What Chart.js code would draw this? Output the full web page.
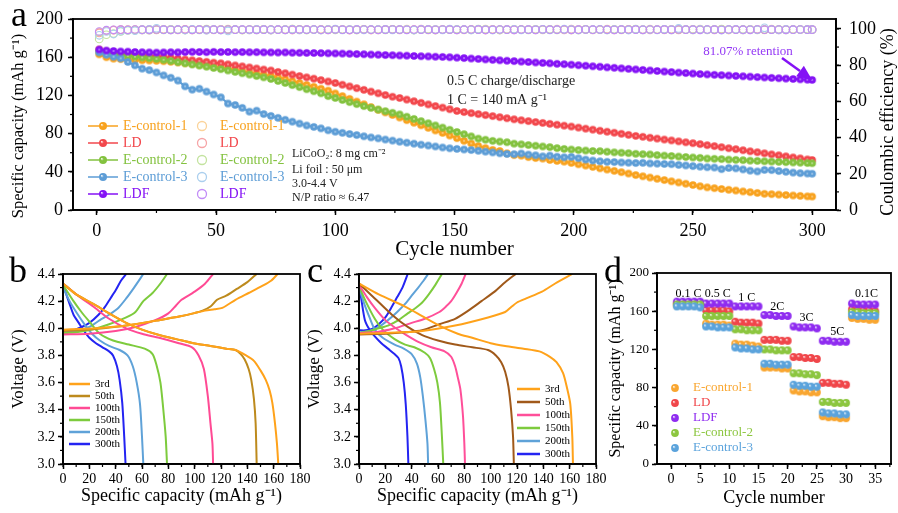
<!DOCTYPE html>
<html>
<head>
<meta charset="utf-8">
<script src="https://cdn.jsdelivr.net/npm/chart.js@4.4.1/dist/chart.umd.min.js"></script>
<style>
  html, body { margin: 0; padding: 0; background: #fff; }
  body { width: 898px; height: 513px; position: relative; overflow: hidden; }
  canvas { position: absolute; }
  .tag { position: absolute; font-family: "Liberation Serif", "Times New Roman", serif; font-size: 36px; line-height: 1; color: #000; }
</style>
</head>
<body>
<canvas id="cycling" style="left:0px;top:0px" width="898" height="263"></canvas>
<canvas id="profileLD" style="left:0px;top:258px" width="320" height="255"></canvas>
<canvas id="profileE" style="left:300px;top:258px" width="320" height="255"></canvas>
<canvas id="rate" style="left:600px;top:258px" width="298" height="255"></canvas>
<div class="tag" style="left:11px;top:-4px">a</div>
<div class="tag" style="left:9px;top:252px">b</div>
<div class="tag" style="left:307px;top:252px">c</div>
<div class="tag" style="left:604px;top:252px">d</div>
<script>
// ---- long-term cycling at 0.5 C (every third cycle) ----
const cycles = [];
for (let c = 1; c <= 298; c += 3) cycles.push(c);
cycles.push(300);

const seriesNames = ["E-control-1", "LD", "E-control-2", "E-control-3", "LDF"];

const capE1 = [
  163, 160, 158.5, 158, 157.5, 157.2, 156.8, 156.5, 156.2, 155.8,
  155.2, 154.5, 153.7, 152.9, 152.1, 151.3, 150.4, 149.2, 147.9, 146.6,
  145.4, 144.1, 142.8, 141.5, 140.3, 139.0, 137.0, 135.0, 133.0, 131.0,
  129.0, 127.0, 125.0, 122.1, 119.3, 116.4, 113.5, 110.7, 107.8, 104.9,
  102.2, 99.5, 96.8, 94.1, 91.4, 88.7, 86.0, 83.3, 80.7, 78.0,
  75.2, 72.5, 69.7, 67.0, 64.8, 63.0, 61.8, 59.4, 57.5, 56.9,
  55.4, 54.4, 53.8, 52.4, 51.4, 50.6, 49.3, 47.9, 46.5, 45.1,
  43.7, 42.4, 41.0, 39.6, 38.2, 36.6, 35.3, 34.0, 32.7, 31.4,
  30.1, 28.8, 27.5, 26.2, 24.9, 23.7, 22.9, 22.0, 21.2, 20.4,
  19.5, 18.7, 17.9, 17.0, 16.6, 16.1, 15.7, 15.2, 14.8, 14.3,
  14.1];
const capLD = [
  168, 166, 165, 164, 163.3, 162.7, 162.1, 161.5, 161.0, 160.2,
  159.3, 158.5, 157.6, 156.8, 156.0, 155.2, 154.3, 153.6, 152.5, 151.4,
  150.4, 149.3, 148.2, 147.1, 146.1, 144.6, 143.2, 141.8, 140.3, 138.9,
  137.5, 136.0, 134.6, 133.0, 131.2, 129.4, 127.6, 125.8, 124.0, 122.2,
  120.4, 118.6, 117.3, 115.6, 113.9, 112.2, 110.6, 108.9, 107.2, 105.5,
  103.7, 102.6, 101.5, 100.4, 99.4, 98.3, 97.2, 96.1, 95.0, 94.0,
  93.1, 92.1, 91.2, 90.2, 89.3, 88.3, 87.4, 86.3, 85.2, 84.1,
  83.0, 82.0, 80.9, 79.8, 78.7, 77.6, 76.7, 75.7, 74.8, 73.8,
  72.9, 71.9, 70.9, 70.0, 69.0, 67.9, 66.9, 65.8, 64.7, 63.7,
  62.6, 61.5, 60.5, 59.4, 58.3, 57.3, 56.2, 55.1, 54.1, 53.0,
  52.4];
const capE2 = [
  166, 164.5, 163.2, 162.2, 161.4, 160.6, 159.8, 159.0, 158.2, 157.3,
  156.1, 154.9, 153.6, 152.4, 151.2, 150.0, 148.7, 147.5, 146.1, 144.6,
  143.2, 141.8, 140.3, 138.9, 137.2, 135.1, 133.0, 130.8, 128.7, 126.5,
  124.4, 122.2, 119.3, 117.3, 115.2, 113.0, 110.9, 108.8, 107.0, 105.2,
  103.5, 101.8, 100.1, 97.7, 95.4, 93.1, 90.9, 88.6, 86.3, 84.0,
  81.7, 79.4, 77.1, 74.8, 73.6, 72.4, 71.6, 71.0, 69.5, 68.8,
  68.0, 67.3, 66.5, 65.9, 64.8, 64.0, 63.3, 62.8, 62.3, 61.8,
  61.6, 61.0, 60.4, 60.0, 59.5, 58.9, 58.5, 58.2, 57.5, 57.0,
  56.6, 56.0, 55.5, 55.0, 54.6, 53.9, 53.6, 53.3, 52.8, 52.5,
  52.2, 51.7, 51.4, 51.0, 50.7, 50.4, 50.1, 49.8, 49.5, 49.2,
  49.0];
const capE3 = [
  165, 162.5, 160.5, 158.8, 155.0, 151.5, 148.0, 146.5, 144.0, 141.0,
  138.5, 135.5, 129.5, 126.0, 127.0, 124.0, 121.0, 118.0, 111.5, 110.0,
  107.0, 103.0, 104.0, 100.5, 98.5, 96.5, 94.5, 92.5, 90.5, 88.5,
  87.0, 85.5, 83.5, 82.0, 80.8, 79.6, 78.5, 77.2, 76.0, 75.0,
  73.8, 72.7, 71.5, 70.5, 69.5, 68.4, 67.5, 66.5, 65.5, 64.6,
  64.0, 63.4, 62.8, 62.0, 61.1, 60.3, 59.4, 58.7, 58.5, 59.2,
  58.0, 57.3, 56.2, 57.0, 55.8, 55.2, 55.6, 54.2, 52.8, 51.8,
  51.0, 50.5, 50.2, 49.8, 49.5, 49.2, 49.4, 48.8, 48.5, 48.2,
  48.0, 47.2, 46.6, 46.0, 45.4, 44.8, 44.5, 42.8, 44.0, 43.6,
  42.5, 41.2, 40.4, 42.0, 41.8, 40.8, 40.0, 39.2, 38.6, 38.2,
  38.0];
const capLDF = [
  168, 167, 166.5, 166, 165.8, 165.5, 165.2, 165.0, 164.8, 165.0,
  165.2, 165.1, 165.4, 165.6, 165.5, 165.3, 165.6, 165.4, 165.5, 165.3,
  165.4, 165.2, 165.3, 165.1, 165.0, 164.9, 165.0, 164.7, 164.6, 164.5,
  164.4, 164.3, 164.1, 164.0, 163.8, 163.6, 163.3, 163.1, 162.8, 162.6,
  162.3, 162.1, 161.8, 161.6, 161.3, 161.0, 160.8, 160.5, 160.3, 160.0,
  159.5, 159.1, 158.6, 158.2, 157.7, 157.2, 156.8, 156.3, 155.9, 155.4,
  155.0, 154.5, 154.0, 153.6, 153.1, 152.7, 152.2, 151.6, 151.1, 150.5,
  150.0, 149.4, 148.9, 148.3, 147.8, 147.2, 146.7, 146.1, 145.6, 145.0,
  144.5, 143.9, 143.4, 142.9, 142.4, 142.0, 141.6, 141.2, 140.8, 140.4,
  140.0, 139.6, 139.2, 138.8, 138.4, 138.0, 137.6, 137.2, 136.8, 136.4,
  136.2];

const ceE1 = [
  98.2, 99.1, 99.4, 99.5, 99.6, 99.4, 99.7, 99.5, 99.6, 99.8,
  99.5, 99.7, 99.6, 99.4, 99.8, 99.6, 99.5, 99.7, 99.9, 99.6,
  99.7, 99.5, 99.8, 99.6, 99.4, 99.7, 99.6, 99.9, 99.5, 99.7,
  99.6, 99.8, 99.5, 99.7, 99.6, 99.4, 99.8, 99.6, 99.7, 99.5,
  99.8, 99.6, 99.7, 99.9, 99.5, 99.6, 99.8, 99.4, 99.7, 99.6,
  99.7, 99.5, 99.8, 99.6, 99.9, 99.7, 99.5, 99.6, 99.8, 99.7,
  99.6, 99.8, 99.5, 99.7, 99.9, 99.6, 99.4, 99.7, 99.8, 99.6,
  99.7, 99.9, 99.6, 99.5, 99.8, 99.7, 99.6, 99.9, 99.7, 99.5,
  99.8, 99.6, 99.7, 99.5, 99.9, 99.6, 99.8, 99.7, 99.4, 99.7,
  99.6, 99.8, 99.7, 99.5, 99.9, 99.6, 99.7, 99.8, 99.6, 99.7,
  99.6];
const ceLD = [
  97.8, 99.0, 99.3, 99.6, 99.5, 99.7, 99.4, 99.6, 99.5, 99.7,
  99.6, 99.5, 99.8, 99.6, 99.7, 99.4, 99.6, 99.8, 99.5, 99.7,
  99.5, 99.7, 99.6, 99.8, 99.5, 99.6, 99.7, 99.4, 99.8, 99.6,
  99.7, 99.5, 99.6, 99.8, 99.7, 99.5, 99.6, 99.8, 99.4, 99.7,
  99.6, 99.8, 99.5, 99.7, 99.6, 99.9, 99.5, 99.7, 99.6, 99.8,
  99.5, 99.7, 99.6, 99.8, 99.4, 99.7, 99.6, 99.8, 99.5, 99.7,
  99.7, 99.5, 99.8, 99.6, 99.7, 99.5, 99.9, 99.6, 99.7, 99.5,
  99.6, 99.8, 99.5, 99.7, 99.6, 99.8, 99.7, 99.5, 99.6, 99.8,
  99.7, 99.5, 99.6, 99.8, 99.7, 99.6, 99.5, 99.8, 99.7, 99.6,
  99.5, 99.7, 99.8, 99.6, 99.7, 99.5, 99.8, 99.6, 99.7, 99.6,
  99.7];
const ceE2 = [
  94.5, 96.8, 97.5, 98.6, 99.2, 99.4, 99.6, 99.3, 99.7, 99.5,
  99.8, 99.6, 99.4, 99.7, 99.5, 99.9, 99.6, 99.5, 99.8, 99.6,
  99.4, 99.7, 99.5, 99.8, 99.6, 99.7, 99.5, 99.9, 99.6, 99.4,
  99.7, 99.6, 99.8, 99.5, 99.7, 99.6, 99.4, 99.8, 99.6, 99.7,
  99.5, 99.8, 99.6, 99.7, 99.4, 99.6, 99.8, 99.5, 99.7, 99.6,
  99.8, 99.6, 99.5, 99.9, 99.7, 99.6, 99.4, 99.7, 99.8, 99.6,
  99.5, 99.7, 99.6, 99.8, 99.5, 99.7, 99.6, 99.4, 99.8, 99.7,
  99.6, 99.5, 99.8, 99.7, 99.6, 99.9, 99.5, 99.7, 99.6, 99.8,
  99.5, 99.7, 99.6, 99.8, 99.6, 99.5, 99.7, 99.9, 99.6, 99.7,
  99.8, 99.6, 99.5, 99.7, 99.6, 99.8, 99.5, 99.7, 99.6, 99.8,
  99.6];
const ceE3 = [
  96.5, 98.6, 97.2, 98.8, 99.3, 99.0, 99.5, 99.8, 100.4, 99.6,
  99.5, 99.7, 99.4, 99.8, 99.6, 99.3, 99.7, 99.5, 98.9, 99.6,
  99.7, 99.5, 99.8, 99.6, 99.4, 99.7, 99.6, 99.8, 99.5, 99.7,
  99.6, 99.4, 99.7, 99.9, 99.5, 99.6, 99.8, 99.5, 99.7, 99.6,
  99.8, 99.5, 99.7, 99.6, 99.4, 99.8, 99.6, 99.7, 99.5, 99.9,
  99.6, 99.7, 99.5, 99.8, 99.6, 99.4, 99.7, 99.6, 99.8, 99.5,
  99.7, 99.6, 99.8, 99.5, 99.7, 99.9, 99.6, 99.5, 99.7, 99.6,
  99.8, 99.5, 99.6, 99.7, 99.4, 99.8, 99.6, 99.7, 99.5, 99.8,
  99.6, 100.3, 99.7, 99.5, 99.8, 99.6, 99.7, 99.4, 99.6, 99.8,
  99.5, 99.7, 99.6, 100.6, 99.7, 99.5, 99.8, 99.6, 99.7, 99.6,
  99.7];
const ceLDF = [
  98.6, 99.3, 99.5, 99.6, 99.5, 99.7, 99.6, 99.5, 99.7, 99.6,
  99.5, 99.6, 99.7, 99.5, 99.6, 99.7, 99.6, 99.5, 99.7, 99.6,
  99.6, 99.7, 99.5, 99.6, 99.7, 99.6, 99.5, 99.6, 99.7, 99.6,
  99.7, 99.6, 99.5, 99.7, 99.6, 99.5, 99.6, 99.7, 99.6, 99.5,
  99.6, 99.7, 99.6, 99.5, 99.7, 99.6, 99.6, 99.5, 99.7, 99.6,
  99.5, 99.6, 99.7, 99.6, 99.5, 99.6, 99.7, 99.6, 99.5, 99.7,
  99.6, 99.5, 99.7, 99.6, 99.6, 99.7, 99.5, 99.6, 99.7, 99.6,
  99.7, 99.6, 99.5, 99.6, 99.7, 99.6, 99.5, 99.7, 99.6, 99.6,
  99.5, 99.7, 99.6, 99.6, 99.5, 99.7, 99.6, 99.5, 99.7, 99.6,
  99.6, 99.5, 99.7, 99.6, 99.6, 99.7, 99.5, 99.6, 99.7, 99.6,
  99.6];

const capacity = [capE1, capLD, capE2, capE3, capLDF];
const efficiency = [ceE1, ceLD, ceE2, ceE3, ceLDF];
const seriesColors = ["#f8a21e", "#f2474c", "#83c23f", "#5d9dd6", "#8412f5"];
const paleColors = ["#fbd39a", "#f6a4a6", "#c3e39f", "#abcfee", "#c28cf7"];

// ---- charge/discharge profiles: 3rd ... 300th cycle ----
const profileCycles = ["3rd", "50th", "100th", "150th", "200th", "300th"];

const ldChargeQ = [
  [0, 12, 25, 48, 73, 90, 99, 108, 115, 121, 131, 141, 151, 158, 163],
  [0, 12, 25, 48, 73, 90, 99, 106, 112, 117, 124, 132, 140, 147],
  [0, 20, 40, 55, 70, 80, 86, 90, 100, 108, 114],
  [0, 10, 22, 35, 48, 55, 61, 68, 74, 79],
  [0, 10, 20, 28, 35, 42, 48, 54, 61],
  [0, 6, 12, 20, 27, 32, 36, 40, 44, 48]];
const ldChargeV = [
  [3.99, 3.995, 4.0, 4.02, 4.06, 4.09, 4.11, 4.13, 4.14, 4.15, 4.21, 4.26, 4.31, 4.35, 4.4],
  [3.98, 3.985, 3.995, 4.02, 4.06, 4.09, 4.11, 4.13, 4.16, 4.21, 4.24, 4.29, 4.34, 4.4],
  [3.955, 3.96, 3.98, 4.01, 4.06, 4.11, 4.17, 4.21, 4.27, 4.33, 4.4],
  [3.965, 3.97, 3.99, 4.03, 4.08, 4.12, 4.2, 4.26, 4.33, 4.4],
  [3.97, 3.98, 4.01, 4.06, 4.1, 4.15, 4.22, 4.3, 4.4],
  [3.975, 3.98, 4.0, 4.04, 4.1, 4.16, 4.22, 4.28, 4.35, 4.4]];
const ldDischargeQ = [
  [0, 10, 23, 35, 48, 60, 73, 86, 99, 112, 124, 131, 139, 145, 150, 154, 157, 159, 161, 162.5, 163.5],
  [0, 10, 23, 35, 48, 60, 73, 86, 99, 112, 124, 131, 135, 138, 141, 143, 145, 146.3, 147.1],
  [0, 10, 23, 35, 48, 60, 73, 88, 98, 103, 107, 110, 112, 113.5, 114],
  [0, 8, 14, 20, 28, 38, 50, 62, 68, 71, 74, 76, 78, 79],
  [0, 5, 10, 17, 22, 28, 35, 43, 49, 53, 56, 58.5, 60, 61],
  [0, 2.5, 5, 8, 12, 16, 20, 25, 30, 35, 38, 41, 43, 45, 46.5, 47.5]];
const ldDischargeV = [
  [4.33, 4.25, 4.18, 4.11, 4.04, 3.99, 3.95, 3.92, 3.89, 3.87, 3.85, 3.84, 3.8, 3.76, 3.69, 3.62, 3.54, 3.45, 3.3, 3.15, 3.0],
  [4.33, 4.25, 4.18, 4.11, 4.04, 3.99, 3.95, 3.92, 3.89, 3.87, 3.85, 3.84, 3.81, 3.77, 3.7, 3.62, 3.48, 3.3, 3.0],
  [4.33, 4.25, 4.16, 4.07, 4.0, 3.96, 3.93, 3.89, 3.86, 3.8, 3.7, 3.5, 3.3, 3.15, 3.0],
  [4.32, 4.2, 4.12, 4.05, 3.96, 3.91, 3.88, 3.85, 3.81, 3.73, 3.6, 3.42, 3.2, 3.0],
  [4.3, 4.2, 4.12, 4.02, 3.96, 3.91, 3.87, 3.84, 3.8, 3.72, 3.6, 3.44, 3.2, 3.0],
  [4.32, 4.25, 4.18, 4.1, 4.04, 3.98, 3.93, 3.89, 3.86, 3.83, 3.8, 3.72, 3.62, 3.45, 3.2, 3.0]];

const ecChargeQ = [
  [0, 20, 48, 73, 98, 111, 116, 120, 127, 139, 149, 162],
  [0, 20, 35, 48, 61, 73, 83, 93, 103, 111, 119],
  [0, 15, 27, 40, 50, 61, 66, 70, 74, 78, 81],
  [0, 8, 15, 22, 30, 37, 43, 48, 53, 58, 63],
  [0, 8, 15, 22, 29, 35, 40, 45, 49, 52.5],
  [0, 5, 10, 15, 20, 25, 29, 33, 37]];
const ecChargeV = [
  [3.96, 3.965, 3.98, 4.02, 4.08, 4.12, 4.16, 4.19, 4.22, 4.27, 4.33, 4.4],
  [3.955, 3.96, 3.97, 3.985, 4.03, 4.07, 4.13, 4.2, 4.27, 4.34, 4.4],
  [3.965, 3.975, 4.0, 4.04, 4.07, 4.12, 4.16, 4.2, 4.26, 4.33, 4.4],
  [3.965, 3.98, 4.0, 4.02, 4.06, 4.11, 4.15, 4.19, 4.25, 4.32, 4.4],
  [3.97, 3.98, 4.01, 4.06, 4.12, 4.18, 4.24, 4.3, 4.35, 4.4],
  [3.985, 3.985, 3.995, 4.03, 4.08, 4.16, 4.23, 4.3, 4.4]];
const ecDischargeQ = [
  [0, 15, 35, 48, 61, 75, 86, 100, 111, 125, 137, 145, 150, 155, 158, 160.5, 162, 162.5],
  [0, 12, 25, 37, 48, 60, 73, 86, 98, 104, 108, 111, 113.5, 115.5, 117, 117.6],
  [0, 6, 12, 20, 28, 36, 45, 55, 65, 70, 73, 75, 77, 79, 80, 80.5],
  [0, 5, 12, 18, 27, 35, 42, 50, 54, 57, 59.5, 61.5, 63, 64],
  [0, 4, 8, 12, 18, 27, 34, 40, 44, 46.5, 48.5, 50.5, 52, 52.5],
  [0, 2, 4.5, 8, 12, 17, 22, 27, 30, 32, 34, 35.5, 36.8, 37.5]];
const ecDischargeV = [
  [4.33, 4.25, 4.16, 4.09, 4.02, 3.96, 3.93, 3.89, 3.87, 3.85, 3.83, 3.79, 3.75, 3.67, 3.56, 3.44, 3.2, 3.0],
  [4.33, 4.22, 4.1, 4.01, 3.95, 3.91, 3.88, 3.86, 3.84, 3.8, 3.75, 3.68, 3.57, 3.4, 3.2, 3.0],
  [4.32, 4.23, 4.15, 4.06, 4.0, 3.95, 3.9, 3.86, 3.83, 3.79, 3.72, 3.64, 3.55, 3.35, 3.15, 3.0],
  [4.31, 4.2, 4.07, 3.99, 3.92, 3.88, 3.86, 3.82, 3.78, 3.7, 3.6, 3.45, 3.2, 3.0],
  [4.3, 4.18, 4.08, 3.99, 3.93, 3.88, 3.85, 3.81, 3.74, 3.64, 3.5, 3.32, 3.15, 3.0],
  [4.33, 4.2, 4.06, 3.99, 3.94, 3.89, 3.85, 3.81, 3.78, 3.72, 3.6, 3.44, 3.2, 3.0]];

const ldProfileColors = ["#ffa21a", "#bd8a1d", "#ff4a94", "#7dcb3d", "#5fa2d8", "#2424f2"];
const ecProfileColors = ["#ffa21a", "#a0591a", "#ff4f99", "#7dcb3d", "#5fa2d8", "#2424f2"];

// ---- rate capability ----
const rateCycles = [1, 2, 3, 4, 5, 6, 7, 8, 9, 10, 11, 12, 13, 14, 15, 16, 17, 18,
  19, 20, 21, 22, 23, 24, 25, 26, 27, 28, 29, 30, 31, 32, 33, 34, 35];
const rateNames = ["E-control-1", "LD", "LDF", "E-control-2", "E-control-3"];
const rateE1 = [166, 166, 166, 166, 166, 147, 146, 146, 146, 145, 126, 125, 125, 124, 123,
  101, 101, 101, 100, 100, 77, 76, 76, 75, 75, 50, 49, 49, 48, 48, 153, 152, 152, 151, 151];
const rateLD = [168, 168, 168, 168, 168, 161, 161, 161, 161, 160, 149, 148, 148, 148, 147,
  130, 130, 130, 129, 129, 112, 112, 111, 111, 110, 85, 85, 84, 84, 83, 162, 161, 161, 161, 160];
const rateLDF = [170, 170, 170, 170, 170, 168, 168, 168, 168, 168, 165, 165, 165, 165, 165,
  156, 156, 155, 155, 155, 144, 143, 143, 143, 142, 129, 129, 128, 128, 128, 168, 167, 167, 167, 167];
const rateE2 = [167, 167, 167, 167, 167, 155, 155, 155, 155, 155, 141, 141, 140, 140, 140,
  120, 120, 119, 119, 119, 95, 95, 94, 94, 93, 65, 65, 64, 64, 64, 159, 159, 158, 158, 158];
const rateE3 = [165, 165, 165, 165, 164, 144, 144, 143, 143, 143, 122, 121, 121, 120, 120,
  105, 105, 104, 104, 104, 83, 82, 82, 81, 81, 54, 53, 53, 52, 52, 156, 155, 155, 155, 155];
const rateValues = [rateE1, rateLD, rateLDF, rateE2, rateE3];
const rateColors = ["#f9a630", "#f0464a", "#8f2cf0", "#8cc63f", "#5ba3dc"];
const rateSteps = ["0.1 C", "0.5 C", "1 C", "2C", "3C", "5C", "0.1C"];
const rateStepAt = [[3, 178], [8, 178], [13, 174], [18.2, 165], [23.2, 153], [28.5, 138], [33.5, 178]];

// ---- common look ----
const serif = '"Liberation Serif", "Times New Roman", serif';
Chart.defaults.font.family = serif;
Chart.defaults.color = "#000";
Chart.defaults.animation = false;
Chart.defaults.events = [];
Chart.defaults.plugins.legend.display = false;
Chart.defaults.plugins.tooltip.enabled = false;

function ballSprite(color, r, centred) {
  const c = document.createElement("canvas");
  const s = Math.ceil(r * 2 + 2);
  c.width = c.height = s;
  const g = c.getContext("2d");
  const m = s / 2;
  const off = centred ? 0 : r * 0.35;
  const grad = g.createRadialGradient(m - off, m - off, 0, m, m, r);
  grad.addColorStop(0, "#ffffff");
  grad.addColorStop(centred ? 0.28 : 0.4, color);
  grad.addColorStop(1, color);
  g.fillStyle = grad;
  g.beginPath();
  g.arc(m, m, r, 0, Math.PI * 2);
  g.fill();
  return c;
}

function axis(o) {
  return {
    type: "linear",
    position: o.position,
    min: o.min,
    max: o.max,
    ticks: {
      stepSize: o.step, includeBounds: false, autoSkip: false, maxRotation: 0,
      font: { size: o.tickSize }, padding: o.tickPad,
      callback: o.format || (v => String(v)),
    },
    grid: { drawOnChartArea: false, tickLength: 5, tickWidth: 1.5, tickColor: "#000" },
    border: { color: "#000", width: 1.8 },
    title: o.title
      ? { display: true, text: o.title, font: { size: o.titleSize }, padding: o.titlePad }
      : { display: false },
    afterFit: o.horizontal ? s => { s.height = o.size; } : s => { s.width = o.size; },
  };
}

const frameBox = {
  id: "frameBox",
  afterDraw(chart) {
    const { ctx, chartArea: a } = chart;
    ctx.save();
    ctx.strokeStyle = "#000";
    ctx.lineWidth = 1.8;
    ctx.strokeRect(a.left, a.top, a.right - a.left, a.bottom - a.top);
    ctx.restore();
  },
};

// short ticks between the labelled ones
function minorTicks(steps) {
  return {
    id: "minorTicks",
    afterDraw(chart) {
      const ctx = chart.ctx;
      ctx.save();
      ctx.strokeStyle = "#000";
      ctx.lineWidth = 1.2;
      for (const [id, step] of Object.entries(steps)) {
        const s = chart.scales[id];
        const first = Math.ceil(s.min / step - 1e-9);
        for (let k = first; k * step <= s.max + 1e-9; k++) {
          const p = s.getPixelForValue(k * step);
          ctx.beginPath();
          if (s.isHorizontal()) {
            ctx.moveTo(p, s.top); ctx.lineTo(p, s.top + 3);
          } else if (s.position === "left") {
            ctx.moveTo(s.right, p); ctx.lineTo(s.right - 3, p);
          } else {
            ctx.moveTo(s.left, p); ctx.lineTo(s.left + 3, p);
          }
          ctx.stroke();
        }
      }
      ctx.restore();
    },
  };
}

// ---- panel a ----
const capSprites = seriesColors.map(c => ballSprite(c, 3.8, true));

const capSets = seriesNames.map((name, i) => ({
  label: name,
  yAxisID: "y",
  data: cycles.map((c, k) => ({ x: c, y: capacity[i][k] })),
  borderColor: seriesColors[i],
  borderWidth: 2,
  pointStyle: capSprites[i],
  pointRadius: 4,
  tension: 0,
}));
const ceSets = seriesNames.map((name, i) => ({
  label: name + " CE",
  yAxisID: "y1",
  showLine: false,
  data: cycles.map((c, k) => ({ x: c, y: efficiency[i][k] })),
  pointStyle: "circle",
  pointRadius: 3.8,
  pointBorderWidth: 1.1,
  pointBorderColor: paleColors[i],
  pointBackgroundColor: "rgba(255,255,255,0)",
}));

const cyclingNotes = {
  id: "cyclingNotes",
  afterDraw(chart) {
    const ctx = chart.ctx;
    ctx.save();
    ctx.textBaseline = "middle";
    ctx.textAlign = "left";
    ctx.font = "14px " + serif;
    seriesNames.forEach((name, i) => {
      const y = 126 + i * 17;
      ctx.strokeStyle = seriesColors[i];
      ctx.lineWidth = 1.5;
      ctx.beginPath(); ctx.moveTo(88, y); ctx.lineTo(118, y); ctx.stroke();
      const sp = ballSprite(seriesColors[i], 4, false);
      ctx.drawImage(sp, 103 - sp.width / 2, y - sp.height / 2);
      ctx.fillStyle = seriesColors[i];
      ctx.fillText(name, 123, y);
      ctx.strokeStyle = paleColors[i];
      ctx.lineWidth = 1.3;
      ctx.beginPath(); ctx.arc(202, y, 4.5, 0, Math.PI * 2); ctx.stroke();
      ctx.fillText(name, 220, y);
    });

    ctx.fillStyle = "#222";
    ctx.font = "12px " + serif;
    ctx.fillText("LiCoO\u2082: 8 mg cm\u207B\u00B2", 292, 154);
    ctx.fillText("Li foil : 50 \u03BCm", 292, 170);
    ctx.fillText("3.0-4.4 V", 292, 184);
    ctx.fillText("N/P ratio \u2248 6.47", 292, 198);

    ctx.font = "14px " + serif;
    ctx.fillText("0.5 C charge/discharge", 447, 81);
    ctx.fillText("1 C = 140 mA g\u207B\u00B9", 447, 100);

    ctx.fillStyle = "#9438f5";
    ctx.font = "13px " + serif;
    ctx.textAlign = "center";
    ctx.fillText("81.07% retention", 748, 52);

    // arrow onto the last LDF point
    const tx = chart.scales.x.getPixelForValue(300);
    const ty = chart.scales.y.getPixelForValue(capLDF[capLDF.length - 1]);
    const sx = 782, sy = 58;
    const len = Math.hypot(tx - sx, ty - sy);
    const ux = (tx - sx) / len, uy = (ty - sy) / len;
    const head = 15, half = 6.5;
    ctx.strokeStyle = "#8412f5";
    ctx.fillStyle = "#8412f5";
    ctx.lineWidth = 2.5;
    ctx.beginPath(); ctx.moveTo(sx, sy); ctx.lineTo(tx - ux * head, ty - uy * head); ctx.stroke();
    ctx.beginPath();
    ctx.moveTo(tx, ty);
    ctx.lineTo(tx - ux * head - uy * half, ty - uy * head + ux * half);
    ctx.lineTo(tx - ux * head + uy * half, ty - uy * head - ux * half);
    ctx.closePath();
    ctx.fill();

    // both axis titles read upwards
    ctx.fillStyle = "#000";
    ctx.textAlign = "center";
    ctx.font = "16.5px " + serif;
    ctx.save();
    ctx.translate(19, 126);
    ctx.rotate(-Math.PI / 2);
    ctx.fillText("Specific capacity (mAh g\u207B\u00B9)", 0, 0);
    ctx.restore();
    ctx.font = "18px " + serif;
    ctx.translate(888, 122);
    ctx.rotate(-Math.PI / 2);
    ctx.fillText("Coulombic efficiency (%)", 0, 0);
    ctx.restore();
  },
};

new Chart(document.getElementById("cycling"), {
  type: "line",
  data: { datasets: [...capSets.reverse(), ...ceSets.reverse()] },
  options: {
    responsive: false,
    layout: { padding: { top: 19, left: 0, right: 0, bottom: 0 } },
    scales: {
      x: axis({ position: "bottom", min: -10, max: 310, step: 50, tickSize: 18, tickPad: 5,
        title: "Cycle number", titleSize: 21, titlePad: { top: 0, bottom: 1 }, horizontal: true, size: 53 }),
      y: axis({ position: "left", min: 0, max: 200, step: 40, tickSize: 18, tickPad: 5, size: 73 }),
      y1: axis({ position: "right", min: 0, max: 105.5, step: 20, tickSize: 18, tickPad: 8, size: 62 }),
    },
  },
  plugins: [frameBox, minorTicks({ x: 25, y: 20, y1: 10 }), cyclingNotes],
});

// ---- panels b and c ----
function profileChart(id, chargeQ, chargeV, dischargeQ, dischargeV, colors, legend) {
  const sets = [];
  profileCycles.forEach((name, i) => {
    sets.push({
      label: name + " charge",
      data: chargeQ[i].map((q, k) => ({ x: q, y: chargeV[i][k] })),
      showLine: true, borderColor: colors[i], borderWidth: 2, pointRadius: 0, tension: 0.25,
    });
    sets.push({
      label: name + " discharge",
      data: dischargeQ[i].map((q, k) => ({ x: q, y: dischargeV[i][k] })),
      showLine: true, borderColor: colors[i], borderWidth: 2, pointRadius: 0, tension: 0.25,
    });
  });
  const keys = {
    id: "profileKeys",
    afterDraw(chart) {
      const ctx = chart.ctx;
      ctx.save();
      ctx.font = "11px " + serif;
      ctx.textBaseline = "middle";
      profileCycles.forEach((name, i) => {
        const y = legend.y + i * legend.gap;
        ctx.strokeStyle = colors[i];
        ctx.lineWidth = 2.5;
        ctx.beginPath(); ctx.moveTo(legend.x0, y); ctx.lineTo(legend.x1, y); ctx.stroke();
        ctx.fillStyle = "#000";
        ctx.fillText(name, legend.x1 + 5, y);
      });
      ctx.restore();
    },
  };
  return new Chart(document.getElementById(id), {
    type: "scatter",
    data: { datasets: sets },
    options: {
      responsive: false,
      layout: { padding: { top: 16, left: 0, right: legend.padRight, bottom: 0 } },
      scales: {
        x: axis({ position: "bottom", min: 0, max: 180, step: 20, tickSize: 14, tickPad: 2,
          title: "Specific capacity (mAh g\u207B\u00B9)", titleSize: 18, titlePad: { top: 0, bottom: 6 },
          horizontal: true, size: 49 }),
        y: axis({ position: "left", min: 3.0, max: 4.4, step: 0.2, tickSize: 14, tickPad: 3,
          format: v => v.toFixed(1),
          title: "Voltage (V)", titleSize: 17, titlePad: { top: legend.titleLeft, bottom: 0 }, size: legend.axisWidth }),
      },
    },
    plugins: [frameBox, minorTicks({ x: 10, y: 0.1 }), keys],
  });
}

profileChart("profileLD", ldChargeQ, ldChargeV, ldDischargeQ, ldDischargeV, ldProfileColors,
  { x0: 69, x1: 90, y: 126, gap: 12, padRight: 20, axisWidth: 63, titleLeft: 8 });
profileChart("profileE", ecChargeQ, ecChargeV, ecDischargeQ, ecDischargeV, ecProfileColors,
  { x0: 217, x1: 240, y: 131, gap: 13, padRight: 24, axisWidth: 59, titleLeft: 4 });

// ---- panel d ----
const rateSets = rateNames.map((name, i) => ({
  label: name,
  data: rateCycles.map((c, k) => ({ x: c, y: rateValues[i][k] })),
  pointStyle: ballSprite(rateColors[i], 3.9, false),
  pointRadius: 4,
}));

const rateNotes = {
  id: "rateNotes",
  afterDraw(chart) {
    const ctx = chart.ctx;
    const { x, y } = chart.scales;
    ctx.save();
    ctx.textBaseline = "middle";
    ctx.textAlign = "center";
    ctx.fillStyle = "#000";
    ctx.font = "12px " + serif;
    rateSteps.forEach((t, i) => {
      ctx.fillText(t, x.getPixelForValue(rateStepAt[i][0]), y.getPixelForValue(rateStepAt[i][1]));
    });
    ctx.textAlign = "left";
    ctx.font = "13px " + serif;
    rateNames.forEach((name, i) => {
      const yy = 130 + i * 15;
      const sp = ballSprite(rateColors[i], 3.9, false);
      ctx.drawImage(sp, 75 - sp.width / 2, yy - sp.height / 2);
      ctx.fillStyle = rateColors[i];
      ctx.fillText(name, 93, yy);
    });
    ctx.restore();
  },
};

new Chart(document.getElementById("rate"), {
  type: "scatter",
  data: { datasets: rateSets.reverse() },
  options: {
    responsive: false,
    layout: { padding: { top: 15, left: 0, right: 7, bottom: 0 } },
    scales: {
      x: axis({ position: "bottom", min: -2.4, max: 37.7, step: 5, tickSize: 14, tickPad: 2,
        title: "Cycle number", titleSize: 18, titlePad: { top: 0, bottom: 4 }, horizontal: true, size: 49 }),
      y: axis({ position: "left", min: 0, max: 200, step: 40, tickSize: 13, tickPad: 3,
        title: "Specific capacity (mAh g\u207B\u00B9)", titleSize: 16, titlePad: { top: 6, bottom: 0 }, size: 57 }),
    },
  },
  plugins: [frameBox, minorTicks({ x: 2.5, y: 20 }), rateNotes],
});
</script>
</body>
</html>
